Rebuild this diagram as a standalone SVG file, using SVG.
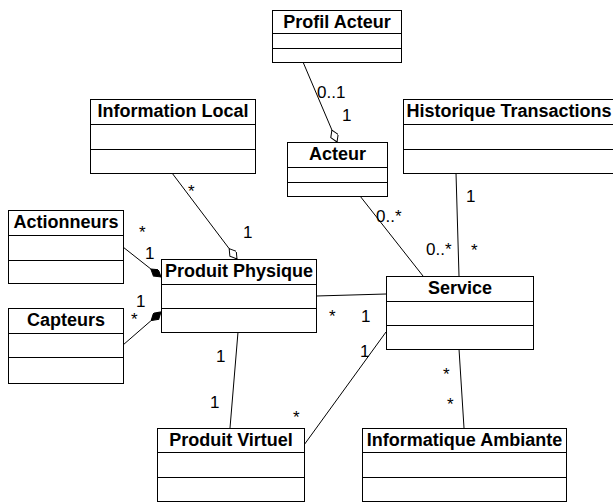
<svg xmlns="http://www.w3.org/2000/svg" width="613" height="502" viewBox="0 0 613 502">
<style>
.box{fill:#fff;stroke:#000;stroke-width:1}
.sep{stroke:#000;stroke-width:1}
.name{font-family:"Liberation Sans",Arial,sans-serif;font-weight:bold;font-size:18px;text-anchor:middle;fill:#000}
.lbl{font-family:"Liberation Sans",Arial,sans-serif;font-size:17px;fill:#000}
.conn line{stroke:#000;stroke-width:1;fill:none}
</style>
<defs>
<marker id="agg" markerUnits="userSpaceOnUse" markerWidth="16" markerHeight="10" refX="13" refY="4" orient="auto">
<path d="M0,4 L6.5,0 L13,4 L6.5,8 Z" fill="#fff" stroke="#000" stroke-width="1"/>
</marker>
<marker id="comp" markerUnits="userSpaceOnUse" markerWidth="16" markerHeight="10" refX="13" refY="4" orient="auto">
<path d="M0,4 L6.5,0 L13,4 L6.5,8 Z" fill="#000" stroke="#000" stroke-width="1"/>
</marker>
</defs>
<g class="conn">
<line x1="303" y1="62" x2="337" y2="142" marker-end="url(#agg)"/>
<line x1="172" y1="173" x2="237" y2="259" marker-end="url(#agg)"/>
<line x1="123" y1="247" x2="161" y2="277" marker-end="url(#comp)"/>
<line x1="123" y1="345" x2="161" y2="312" marker-end="url(#comp)"/>
<line x1="316" y1="296" x2="386" y2="294"/>
<line x1="238" y1="332" x2="230" y2="428"/>
<line x1="304" y1="445" x2="386" y2="332"/>
<line x1="360" y1="196" x2="423" y2="276"/>
<line x1="456" y1="173" x2="459" y2="276"/>
<line x1="459" y1="349" x2="464" y2="428"/>
</g>
<g id="profil-acteur">
<rect class="box" x="272.5" y="10.5" width="129" height="52"/>
<line class="sep" x1="272.5" y1="33.5" x2="401.5" y2="33.5"/>
<line class="sep" x1="272.5" y1="48.5" x2="401.5" y2="48.5"/>
<text class="name" x="337" y="28">Profil Acteur</text>
</g>
<g id="acteur">
<rect class="box" x="287.5" y="142.5" width="100" height="54"/>
<line class="sep" x1="287.5" y1="167.5" x2="387.5" y2="167.5"/>
<line class="sep" x1="287.5" y1="182.5" x2="387.5" y2="182.5"/>
<text class="name" x="337.5" y="160">Acteur</text>
</g>
<g id="information-local">
<rect class="box" x="90.5" y="99.5" width="165" height="74"/>
<line class="sep" x1="90.5" y1="124.5" x2="255.5" y2="124.5"/>
<line class="sep" x1="90.5" y1="149.5" x2="255.5" y2="149.5"/>
<text class="name" x="173" y="117">Information Local</text>
</g>
<g id="historique-transactions">
<rect class="box" x="403.5" y="99.5" width="212" height="74"/>
<line class="sep" x1="403.5" y1="124.5" x2="615.5" y2="124.5"/>
<line class="sep" x1="403.5" y1="149.5" x2="615.5" y2="149.5"/>
<text class="name" x="509" y="117">Historique Transactions</text>
</g>
<g id="actionneurs">
<rect class="box" x="8.5" y="210.5" width="115" height="73"/>
<line class="sep" x1="8.5" y1="235.5" x2="123.5" y2="235.5"/>
<line class="sep" x1="8.5" y1="260.5" x2="123.5" y2="260.5"/>
<text class="name" x="66" y="228">Actionneurs</text>
</g>
<g id="capteurs">
<rect class="box" x="8.5" y="308.5" width="115" height="75"/>
<line class="sep" x1="8.5" y1="333.5" x2="123.5" y2="333.5"/>
<line class="sep" x1="8.5" y1="357.5" x2="123.5" y2="357.5"/>
<text class="name" x="66" y="326">Capteurs</text>
</g>
<g id="produit-physique">
<rect class="box" x="161.5" y="259.5" width="155" height="73"/>
<line class="sep" x1="161.5" y1="284.5" x2="316.5" y2="284.5"/>
<line class="sep" x1="161.5" y1="308.5" x2="316.5" y2="308.5"/>
<text class="name" x="239" y="277">Produit Physique</text>
</g>
<g id="service">
<rect class="box" x="386.5" y="276.5" width="147" height="73"/>
<line class="sep" x1="386.5" y1="301.5" x2="533.5" y2="301.5"/>
<line class="sep" x1="386.5" y1="325.5" x2="533.5" y2="325.5"/>
<text class="name" x="460" y="294">Service</text>
</g>
<g id="produit-virtuel">
<rect class="box" x="157.5" y="428.5" width="147" height="73"/>
<line class="sep" x1="157.5" y1="452.5" x2="304.5" y2="452.5"/>
<line class="sep" x1="157.5" y1="477.5" x2="304.5" y2="477.5"/>
<text class="name" x="231" y="446">Produit Virtuel</text>
</g>
<g id="informatique-ambiante">
<rect class="box" x="362.5" y="428.5" width="204" height="73"/>
<line class="sep" x1="362.5" y1="452.5" x2="566.5" y2="452.5"/>
<line class="sep" x1="362.5" y1="477.5" x2="566.5" y2="477.5"/>
<text class="name" x="464.5" y="446">Informatique Ambiante</text>
</g>
<g id="labels">
<text class="lbl" x="317" y="98">0..1</text>
<text class="lbl" x="342" y="121">1</text>
<text class="lbl" x="188" y="197">*</text>
<text class="lbl" x="243" y="238">1</text>
<text class="lbl" x="139" y="238">*</text>
<text class="lbl" x="145" y="259">1</text>
<text class="lbl" x="136" y="307">1</text>
<text class="lbl" x="131" y="325">*</text>
<text class="lbl" x="329" y="322">*</text>
<text class="lbl" x="361" y="322">1</text>
<text class="lbl" x="216" y="362">1</text>
<text class="lbl" x="210" y="408">1</text>
<text class="lbl" x="293" y="423">*</text>
<text class="lbl" x="360" y="357">1</text>
<text class="lbl" x="443" y="380">*</text>
<text class="lbl" x="447" y="410">*</text>
<text class="lbl" x="466" y="202">1</text>
<text class="lbl" x="426" y="255">0..*</text>
<text class="lbl" x="471" y="256">*</text>
<text class="lbl" x="376" y="222">0..*</text>
</g>
</svg>
